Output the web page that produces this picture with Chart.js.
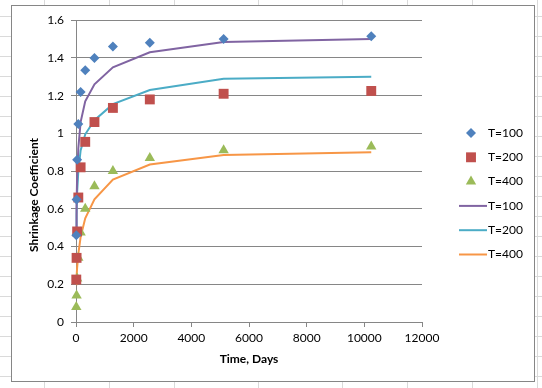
<!DOCTYPE html>
<html>
<head>
<meta charset="utf-8">
<script src="https://cdn.jsdelivr.net/npm/chart.js@4.4.1/dist/chart.umd.min.js"></script>
<style>
  html, body { margin: 0; padding: 0; }
  body { width: 542px; height: 388px; position: relative; overflow: hidden; background: #fff; }
  #sheet {
    position: absolute; left: 0; top: 0; width: 542px; height: 388px;
    background-image:
      repeating-linear-gradient(to bottom, transparent 0px, transparent 19px, #dadada 19px, #dadada 20px),
      linear-gradient(to right, transparent 44px, #dadada 44px, #dadada 45px, transparent 45px,
        transparent 109px, #dadada 109px, #dadada 110px, transparent 110px,
        transparent 174px, #dadada 174px, #dadada 175px, transparent 175px,
        transparent 258px, #dadada 258px, #dadada 259px, transparent 259px,
        transparent 342px, #dadada 342px, #dadada 343px, transparent 343px,
        transparent 407px, #dadada 407px, #dadada 408px, transparent 408px,
        transparent 472px, #dadada 472px, #dadada 473px, transparent 473px,
        transparent 537px, #dadada 537px, #dadada 538px, transparent 538px);
    background-position: 0 -3px, 0 0;
  }
  #frame {
    position: absolute; left: 11px; top: 5px; width: 522px; height: 375px;
    border: 1px solid #868686; background: #fff;
  }
  #c { display: block; }
</style>
</head>
<body>
<div id="sheet"></div>
<div id="frame"><canvas id="c" width="522" height="375"></canvas></div>
<script>
// ---- data ----
const days = [10, 20, 40, 80, 160, 320, 640, 1280, 2560, 5120, 10240];
const obsT100 = [0.46, 0.65, 0.86, 1.05, 1.22, 1.335, 1.40, 1.46, 1.48, 1.50, 1.515];
const obsT200 = [0.225, 0.34, 0.48, 0.66, 0.82, 0.955, 1.06, 1.135, 1.18, 1.21, 1.225];
const obsT400 = [0.08, 0.14, 0.23, 0.34, 0.475, 0.60, 0.72, 0.80, 0.87, 0.91, 0.93];
const fitT100 = [0.45, 0.62, 0.78, 0.92, 1.06, 1.17, 1.26, 1.35, 1.43, 1.485, 1.50];
const fitT200 = [0.45, 0.57, 0.69, 0.80, 0.91, 0.995, 1.07, 1.155, 1.23, 1.29, 1.30];
const fitT400 = [0.20, 0.24, 0.29, 0.36, 0.45, 0.55, 0.65, 0.755, 0.835, 0.885, 0.90];
const seriesLabels = ['T=100', 'T=200', 'T=400', 'T=100', 'T=200', 'T=400'];
const xTickLabels = ['0', '2000', '4000', '6000', '8000', '10000', '12000'];
const yTickLabels = ['0', '0.2', '0.4', '0.6', '0.8', '1', '1.2', '1.4', '1.6'];
const xTitle = 'Time, Days';
const yTitle = 'Shrinkage Coefficient';

const FONT = 'Lato, "Open Sans", sans-serif';
const GRID = '#868686';

function pts(xs, ys) { return xs.map((x, i) => ({ x: x, y: ys[i] })); }

const markerSet = [
  { data: obsT100, style: 'rectRot', r: 5, color: '#4F81BD' },
  { data: obsT200, style: 'rect', r: 7, color: '#C0504D' },
  { data: obsT400, style: 'triangle', r: 6, color: '#9BBB59' }
];
const lineSet = [
  { data: fitT100, color: '#8064A2' },
  { data: fitT200, color: '#4BACC6' },
  { data: fitT400, color: '#F79646' }
];

const datasets = [];
markerSet.forEach((m, i) => datasets.push({
  label: seriesLabels[i], data: pts(days, m.data), showLine: false,
  pointStyle: m.style, pointRadius: m.r, pointHoverRadius: m.r,
  backgroundColor: m.color, borderColor: m.color, borderWidth: 0, order: 0, clip: false
}));
lineSet.forEach((l, i) => datasets.push({
  label: seriesLabels[i + 3], data: pts(days, l.data), showLine: true,
  pointRadius: 0, borderColor: l.color, backgroundColor: l.color,
  borderWidth: 2, fill: false, tension: 0, order: 1, clip: false
}));

function drawMarker(ctx, style, r, x, y, color) {
  ctx.save();
  ctx.fillStyle = color;
  ctx.beginPath();
  if (style === 'rectRot') {
    ctx.moveTo(x, y - r); ctx.lineTo(x + r, y); ctx.lineTo(x, y + r); ctx.lineTo(x - r, y);
  } else if (style === 'rect') {
    const h = Math.SQRT1_2 * r;
    ctx.rect(x - h, y - h, 2 * h, 2 * h);
  } else {
    ctx.moveTo(x, y - r);
    ctx.lineTo(x + r * Math.sin(Math.PI / 3), y + r / 2);
    ctx.lineTo(x - r * Math.sin(Math.PI / 3), y + r / 2);
  }
  ctx.closePath();
  ctx.fill();
  ctx.restore();
}

const extras = {
  id: 'extras',
  afterDraw(chart) {
    const ctx = chart.ctx;
    // y-axis title
    ctx.save();
    ctx.font = 'bold 12px ' + FONT;
    ctx.fillStyle = '#000';
    ctx.textAlign = 'center';
    ctx.textBaseline = 'middle';
    ctx.translate(22, 189);
    ctx.rotate(-Math.PI / 2);
    ctx.fillText(yTitle, 0, 0);
    ctx.restore();
    // legend
    ctx.save();
    ctx.font = '12px ' + FONT;
    ctx.fillStyle = '#000';
    ctx.textAlign = 'left';
    ctx.textBaseline = 'middle';
    for (let i = 0; i < 6; i++) {
      const y = 127 + i * 24.3;
      if (i < 3) {
        const m = markerSet[i];
        drawMarker(ctx, m.style, m.r, 459, y, m.color);
      } else {
        ctx.save();
        ctx.strokeStyle = lineSet[i - 3].color;
        ctx.lineWidth = 2;
        ctx.beginPath();
        ctx.moveTo(447, y); ctx.lineTo(475, y);
        ctx.stroke();
        ctx.restore();
      }
      ctx.fillStyle = '#000';
      ctx.fillText(seriesLabels[i], 476, y);
    }
    ctx.restore();
  }
};

new Chart(document.getElementById('c'), {
  type: 'scatter',
  data: { datasets: datasets },
  plugins: [extras],
  options: {
    responsive: false,
    animation: false,
    layout: { padding: { left: 0, right: 112, top: 13, bottom: 0 } },
    plugins: { legend: { display: false }, tooltip: { enabled: false } },
    scales: {
      x: {
        type: 'linear', min: 0, max: 12000,
        afterFit(s) { s.height = 59; },
        ticks: {
          stepSize: 2000, color: '#000', padding: 4,
          font: { family: FONT, size: 12 },
          callback: (v) => xTickLabels[Math.round(v / 2000)]
        },
        grid: { drawOnChartArea: false, drawTicks: true, tickLength: 5, color: GRID },
        border: { display: true, color: GRID },
        title: { display: true, text: xTitle, color: '#000',
          font: { family: FONT, size: 12, weight: 'bold' }, padding: { top: 0, bottom: 15 } }
      },
      y: {
        type: 'linear', min: 0, max: 1.6,
        afterFit(s) { s.width = 64; },
        ticks: {
          stepSize: 0.2, color: '#000', padding: 7,
          font: { family: FONT, size: 12 },
          callback: (v) => yTickLabels[Math.round(v / 0.2)]
        },
        grid: { drawTicks: true, tickLength: 5, color: GRID },
        border: { display: true, color: GRID }
      }
    }
  }
});
</script>
</body>
</html>
